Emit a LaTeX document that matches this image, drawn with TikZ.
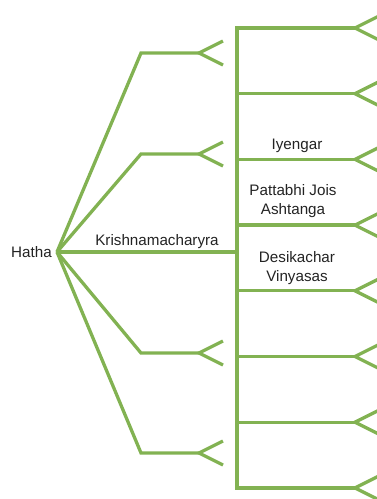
\documentclass[tikz,border=0pt]{standalone}
\usepackage{fontspec}
\setmainfont{Liberation Sans}
\usetikzlibrary{positioning}
\definecolor{stemgreen}{RGB}{130,178,82}
\definecolor{labelgray}{RGB}{35,35,35}

\begin{document}
\begin{tikzpicture}[x=1pt, y=-1pt,
  branch/.style={draw=stemgreen, line width=3.3pt},
  lbl/.style={text=labelgray, font=\fontsize{15.2}{18.5}\selectfont, align=center, inner sep=0pt}]
\useasboundingbox (0,0) rectangle (377,499);
\clip (0,0) rectangle (377,499);
\node [lbl, anchor=east] (hatha) at (52,252) {Hatha};
\coordinate (root) at (57,252);
\coordinate (trunk) at (237,252);
% forks on the left
\foreach \y [count=\i] in {53,154,353,453} {
  \coordinate (bend\i) at (141,\y);
  \coordinate (fork\i) at (199,\y);
  \coordinate (up\i) at (223,\y-12);
  \coordinate (dn\i) at (223,\y+12);
  \draw [branch] (root) -- (bend\i) -- (fork\i);
  \draw [branch] (up\i) -- (fork\i) -- (dn\i);
}
\draw [branch] (root) -- (trunk);
% branches on the right
\foreach \i in {0,...,7} {
  \coordinate (stem\i) at (237,28+65.7*\i);
  \coordinate (tip\i) at (355,28+65.7*\i);
  \coordinate (tipup\i) at (379,16+65.7*\i);
  \coordinate (tipdn\i) at (379,40+65.7*\i);
  \draw [branch] (stem\i) -- (tip\i);
  \draw [branch] (tipup\i) -- (tip\i) -- (tipdn\i);
}
\draw [branch] (tip0) -- (stem0) -- (stem7) -- (tip7);
\node [lbl] (krish) at (157,242) {Krishnamacharyra};
\node [lbl] (iyengar) at (297,146) {Iyengar};
\node [lbl] (ashtanga) at (293,201) {Pattabhi Jois\\Ashtanga};
\node [lbl] (vinyasa) at (297,268) {Desikachar\\Vinyasas};
\end{tikzpicture}
\end{document}
